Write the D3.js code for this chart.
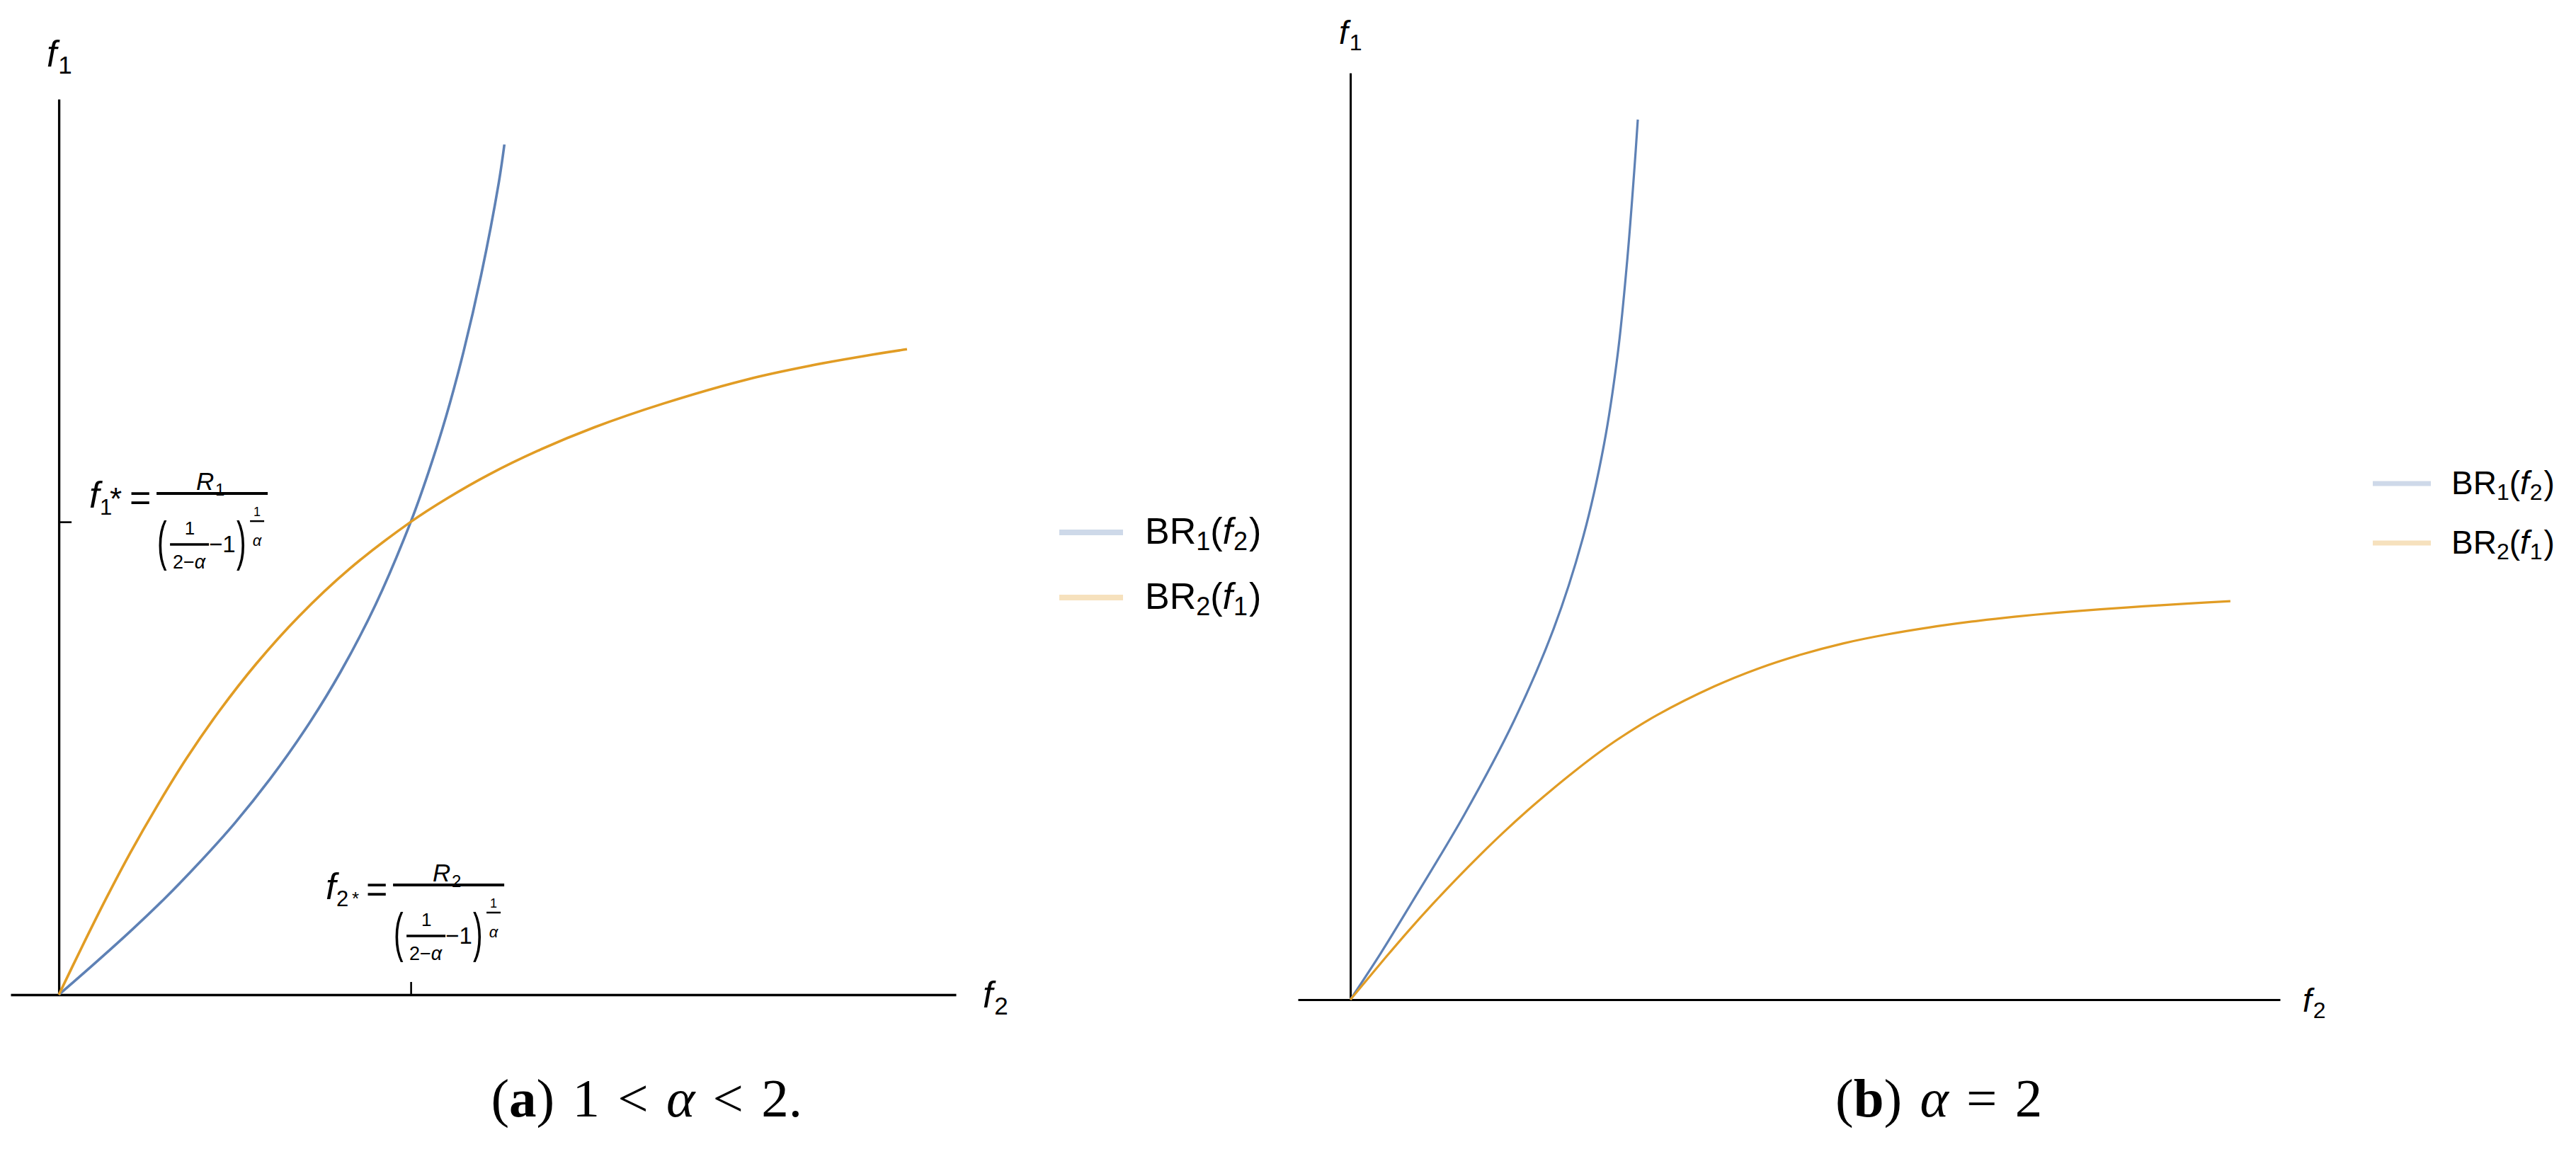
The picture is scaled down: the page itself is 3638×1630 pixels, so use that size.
<!DOCTYPE html>
<html><head><meta charset="utf-8">
<script src="https://cdn.jsdelivr.net/npm/d3@7"></script>
<style>body{margin:0;background:#fff;} svg{display:block;}</style>
</head><body><svg id="c" width="3638" height="1630"></svg>
<script>
// ---------- DATA ----------
// Panel (a): 1 < alpha < 2, units where the equilibrium f* = 1
const aBR1_f2 = [0, 0.1, 0.2, 0.3, 0.4, 0.5, 0.6, 0.7, 0.8, 0.9, 1.0, 1.05, 1.1, 1.15, 1.2, 1.25, 1.266];
const aBR1_f1 = [0, 0.065, 0.132, 0.203, 0.280, 0.363, 0.456, 0.561, 0.682, 0.825, 1.0, 1.104, 1.222, 1.36, 1.522, 1.717, 1.798];
const aBR2_f2 = [0, 0.065, 0.132, 0.203, 0.280, 0.363, 0.456, 0.561, 0.682, 0.825, 1.0, 1.104, 1.222, 1.36, 1.522, 1.717, 1.96, 2.14, 2.29, 2.41];
const aBR2_f1 = [0, 0.1, 0.2, 0.3, 0.4, 0.5, 0.6, 0.7, 0.8, 0.9, 1.0, 1.05, 1.1, 1.15, 1.2, 1.25, 1.302, 1.331, 1.351, 1.365];
const aTickF2 = [1];   // f2*
const aTickF1 = [1];   // f1*
// Panel (b): alpha = 2
const bBR1_f2 = [0, 0.163, 0.316, 0.614, 0.878, 1.093, 1.253, 1.365, 1.440, 1.490, 1.529, 1.546];
const bBR1_f1 = [0, 0.25, 0.5, 1.0, 1.5, 2.0, 2.5, 3.0, 3.5, 4.0, 4.5, 4.748];
const bBR2_f2 = [0, 0.190, 0.316, 0.442, 0.571, 0.697, 0.823, 0.952, 1.078, 1.203, 1.333, 1.459, 1.649, 1.957, 2.190, 2.418, 2.650, 2.883, 3.111, 3.343, 3.572, 3.804, 4.033, 4.265, 4.497, 4.733];
const bBR2_f1 = [0, 0.228, 0.375, 0.515, 0.652, 0.780, 0.902, 1.020, 1.128, 1.230, 1.330, 1.418, 1.535, 1.690, 1.785, 1.860, 1.922, 1.970, 2.008, 2.040, 2.066, 2.088, 2.106, 2.122, 2.137, 2.150];
// Series names: BR_1(f_2), BR_2(f_1)
const seriesBase = ["BR", "BR"];
const seriesIdx = ["1", "2"];
const seriesArgIdx = ["2", "1"];
const seriesColors = ["#5E81B5", "#E19C24"];
const captionA = ["(", "a", ") 1 < ", "α", " < 2."];
const captionB = ["(", "b", ") ", "α", " = 2"];

// ---------- DRAWING ----------
const SANS = "'Liberation Sans', Arial, sans-serif";
const SERIF = "'Liberation Serif', 'Times New Roman', serif";
const svg = d3.select("#c");
svg.append("rect").attr("width", 3638).attr("height", 1630).attr("fill", "#fff");

function rich(g, x, y, parts, size, subSize, subDy, family) {
  const t = g.append("text").attr("x", x).attr("y", y)
    .attr("font-family", family || SANS).attr("font-size", size).attr("fill", "#000");
  let shift = 0;
  parts.forEach(p => {
    const target = p.sub ? subDy : 0;
    const ts = t.append("tspan").text(p.t);
    if (target !== shift) { ts.attr("dy", target - shift); shift = target; }
    if (p.sub) ts.attr("font-size", p.size || subSize);
    if (p.it) ts.attr("font-style", "italic");
    if (p.bold) ts.attr("font-weight", "bold");
    if (p.dx) ts.attr("dx", p.dx);
  });
  return t;
}

function zip(a, b) { return a.map((v, i) => [v, b[i]]); }

function panel(cfg) {
  const g = svg.append("g");
  const x = d3.scaleLinear().domain(cfg.xDomain).range(cfg.xRange);
  const y = d3.scaleLinear().domain(cfg.yDomain).range(cfg.yRange);
  // axes
  const xAxis = d3.axisBottom(x).tickValues(cfg.xTicks).tickSize(-cfg.tick).tickSizeOuter(0).tickFormat(() => "");
  const yAxis = d3.axisLeft(y).tickValues(cfg.yTicks).tickSize(-cfg.tick).tickSizeOuter(0).tickFormat(() => "");
  const style = s => {
    s.select(".domain").attr("stroke", "#000").attr("stroke-width", cfg.axisW);
    s.selectAll(".tick line").attr("stroke", "#000").attr("stroke-width", 2.6);
  };
  g.append("g").attr("transform", `translate(0,${y(0)})`).call(xAxis).call(style);
  g.append("g").attr("transform", `translate(${x(0)},0)`).call(yAxis).call(style);
  // curves
  const line = d3.line().x(d => x(d[0])).y(d => y(d[1])).curve(d3.curveCatmullRom.alpha(0.5));
  cfg.series.forEach((s, i) => {
    g.append("path").datum(s).attr("d", line).attr("fill", "none")
      .attr("stroke", seriesColors[i]).attr("stroke-width", cfg.curveW)
      .attr("stroke-linejoin", "round").attr("stroke-linecap", "butt");
  });
  // axis labels
  rich(g, cfg.f1Lab[0], cfg.f1Lab[1], [{t: "f", it: true}, {t: "1", sub: true, dx: 2}], cfg.labSize, cfg.labSub, cfg.labDy);
  rich(g, cfg.f2Lab[0], cfg.f2Lab[1], [{t: "f", it: true}, {t: "2", sub: true, dx: 2}], cfg.labSize, cfg.labSub, cfg.labDy);
  // legend
  const L = cfg.legend;
  seriesBase.forEach((b, i) => {
    const ly = L.y + i * L.gap;
    g.append("line").attr("x1", L.x).attr("x2", L.x + L.len).attr("y1", ly).attr("y2", ly)
      .attr("stroke", seriesColors[i]).attr("stroke-opacity", 0.3).attr("stroke-width", L.w);
    rich(g, L.tx, ly + L.base, [
      {t: b}, {t: seriesIdx[i], sub: true}, {t: "("}, {t: "f", it: true},
      {t: seriesArgIdx[i], sub: true, dx: 1}, {t: ")", dx: 2}
    ], L.size, L.sub, L.subDy);
  });
  return {g, x, y};
}

// equilibrium annotation: x0,y0 = start of main fraction bar
function eqLabel(g, x0, y0, idx, starSup) {
  const T = (x, y, s, size, opts = {}) => {
    const t = g.append("text").attr("x", x).attr("y", y).text(s)
      .attr("font-family", SANS).attr("font-size", size).attr("fill", "#000");
    if (opts.it) t.attr("font-style", "italic");
    if (opts.anchor) t.attr("text-anchor", opts.anchor);
    return t;
  };
  T(x0 - 95, y0 + 20, "f", 52, {it: true});
  T(x0 - 80, y0 + 30, idx, 31);
  if (starSup) T(x0 - 66, y0 + 23, "*", 44);
  else T(x0 - 58, y0 + 28, "*", 26);
  T(x0 - 38, y0 + 24, "=", 52);
  g.append("line").attr("x1", x0).attr("x2", x0 + 157).attr("y1", y0).attr("y2", y0)
    .attr("stroke", "#000").attr("stroke-width", 4);
  // numerator R_i
  T(x0 + 56, y0 - 5, "R", 35, {it: true});
  T(x0 + 83, y0 + 3, idx, 24);
  // denominator
  g.append("text").text("(").attr("font-family", SANS).attr("font-size", 48)
    .attr("transform", `translate(${x0 + 1},${y0 + 93}) scale(0.85,1.6)`);
  T(x0 + 47, y0 + 58, "1", 26, {anchor: "middle"});
  g.append("line").attr("x1", x0 + 19).attr("x2", x0 + 74).attr("y1", y0 + 72).attr("y2", y0 + 72)
    .attr("stroke", "#000").attr("stroke-width", 3.5);
  const d = T(x0 + 46, y0 + 106, "", 27, {anchor: "middle"});
  d.append("tspan").text("2−");
  d.append("tspan").text("α").attr("font-style", "italic");
  T(x0 + 74, y0 + 83, "−1", 33);
  g.append("text").text(")").attr("font-family", SANS).attr("font-size", 48)
    .attr("transform", `translate(${x0 + 113},${y0 + 93}) scale(0.85,1.6)`);
  T(x0 + 142, y0 + 32, "1", 18, {anchor: "middle"});
  g.append("line").attr("x1", x0 + 132).attr("x2", x0 + 152).attr("y1", y0 + 39).attr("y2", y0 + 39)
    .attr("stroke", "#000").attr("stroke-width", 2.5);
  T(x0 + 142, y0 + 74, "α", 22, {it: true, anchor: "middle"});
}

// Panel (a)
const A = panel({
  xDomain: [-0.137, 2.549], xRange: [15, 1350],
  yDomain: [0, 1.894], yRange: [1405, 140],
  xTicks: aTickF2, yTicks: aTickF1, tick: 18, axisW: 3.3, curveW: 3.6,
  series: [zip(aBR1_f2, aBR1_f1), zip(aBR2_f2, aBR2_f1)],
  f1Lab: [66, 94], f2Lab: [1388, 1423], labSize: 51, labSub: 35, labDy: 10,
  legend: {x: 1496, len: 90, y: 752, gap: 92, w: 8, tx: 1617, base: 16, size: 52, sub: 36, subDy: 9}
});
eqLabel(A.g, A.x(0) + 138, A.y(aTickF1[0]) - 40, "1", true);
eqLabel(A.g, A.x(aTickF2[0]) - 25, A.y(0) - 155, "2", false);

// Panel (b)
panel({
  xDomain: [-0.282, 5.0], xRange: [1833, 3220],
  yDomain: [0, 5.0], yRange: [1412, 103],
  xTicks: [], yTicks: [], tick: 18, axisW: 3.0, curveW: 3.2,
  series: [zip(bBR1_f2, bBR1_f1), zip(bBR2_f2, bBR2_f1)],
  f1Lab: [1891, 62], f2Lab: [3252, 1429], labSize: 46, labSub: 32, labDy: 9,
  legend: {x: 3351, len: 82, y: 683, gap: 84, w: 7, tx: 3462, base: 15, size: 46, sub: 32, subDy: 8}
});

// Captions
function caption(x, anchor, parts) {
  const t = svg.append("text").attr("x", x).attr("y", 1577).attr("text-anchor", anchor)
    .attr("font-family", SERIF).attr("font-size", 77).attr("fill", "#000")
    .attr("word-spacing", 6);
  parts.forEach((p, i) => {
    const ts = t.append("tspan").text(p);
    if (i === 1) ts.attr("font-weight", "bold");
    if (i === 3) ts.attr("font-style", "italic");
  });
}
caption(1133, "end", captionA);
caption(2592, "start", captionB);
</script>
</body></html>
